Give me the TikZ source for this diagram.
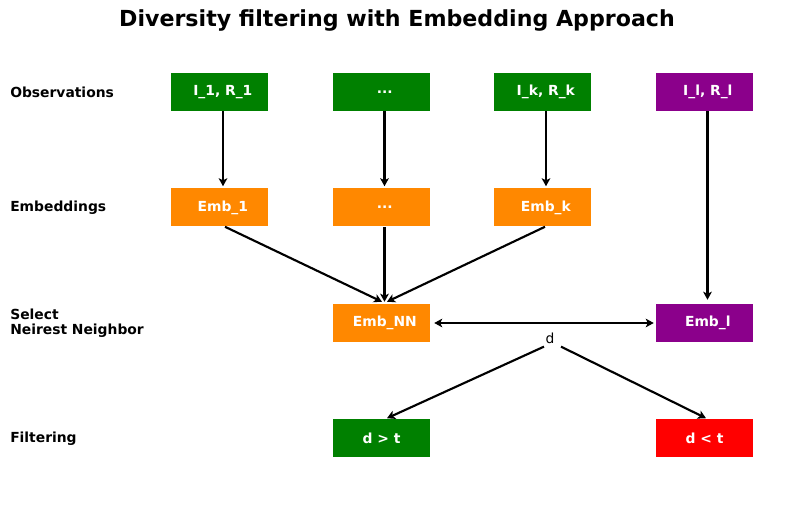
\documentclass[tikz,border=0pt]{standalone}
\usepackage{fontspec}
\setmainfont{DejaVu Sans}
\usetikzlibrary{arrows.meta,calc}
\definecolor{cgreen}{HTML}{008000}
\definecolor{corange}{HTML}{FF8800}
\definecolor{cpurple}{HTML}{8B008B}
\definecolor{cred}{HTML}{FF0000}
\tikzset{
  box/.style={rectangle, fill=#1, minimum width=72.75pt, minimum height=28.5pt, inner sep=0pt, text=white, font=\bfseries\fontsize{10.4}{12}\selectfont},
  rowlab/.style={anchor=west, inner sep=0pt, align=left, font=\bfseries\fontsize{10.4}{11.6}\selectfont},
  arr/.style={-{Stealth[length=6pt,width=6.5pt,inset=1.5pt]}, line width=1.6pt},
  darr/.style={{Stealth[length=6pt,width=6.5pt,inset=1.5pt]}-{Stealth[length=6pt,width=6.5pt,inset=1.5pt]}, line width=1.6pt},
}
\newcommand{\sh}{\hspace*{5pt}}
\begin{document}
\begin{tikzpicture}[x=0.75pt,y=-0.75pt]
\useasboundingbox (0,0) rectangle (794,506);
\node[font=\bfseries\fontsize{16.6}{20}\selectfont] (title) at (397,20) {Diversity filtering with Embedding Approach};

\node[rowlab] (l1) at (10,92) {Observations};
\node[rowlab] (l2) at (10,207.5) {Embeddings};
\node[rowlab] (l3) at (10,323) {Select\\Neirest Neighbor};
\node[rowlab] (l4) at (10,438.5) {Filtering};

\node[box=cgreen] (o1) at (219.5,92) {\sh I\_1, R\_1};
\node[box=cgreen] (o2) at (381.5,92) {\sh ...};
\node[box=cgreen] (o3) at (542.5,92) {\sh I\_k, R\_k};
\node[box=cpurple] (o4) at (704.5,92) {\sh I\_l, R\_l};

\node[box=corange] (e1) at (219.5,207.5) {\sh Emb\_1};
\node[box=corange] (e2) at (381.5,207.5) {\sh ...};
\node[box=corange] (e3) at (542.5,207.5) {\sh Emb\_k};

\node[box=corange] (nn) at (381.5,323) {\sh Emb\_NN};
\node[box=cpurple] (el) at (704.5,323) {\sh Emb\_l};

\node[box=cgreen] (f1) at (381.5,438.5) {d > t};
\node[box=cred] (f2) at (704.5,438.5) {d < t};

\node[inner sep=0pt, font=\fontsize{10.4}{12}\selectfont] (d) at (550,338) {d};

\draw[arr] ($(o1.south)+(3.5,0)$) -- ($(e1.north)+(3.5,-2)$);
\draw[arr] ($(o2.south)+(3,0)$) -- ($(e2.north)+(3,-2)$);
\draw[arr] ($(o3.south)+(3.5,0)$) -- ($(e3.north)+(3.5,-2)$);
\draw[arr] ($(o4.south)+(3,0)$) -- ($(el.north)+(3,-4)$);

\draw[arr] ($(e1.south)+(5.5,0)$) -- ($(nn.north)+(0.5,-2)$);
\draw[arr] ($(e2.south)+(3,0)$) -- ($(nn.north)+(3,-2)$);
\draw[arr] ($(e3.south)+(2.5,0)$) -- ($(nn.north)+(5.5,-2)$);

\draw[darr] ($(nn.east)+(4,0)$) -- ($(el.west)+(-2,0)$);

\draw[arr] ($(d.south)+(-6,3)$) -- ($(f1.north)+(5.5,-1)$);
\draw[arr] ($(d.south)+(11,3)$) -- ($(f2.north)+(1.5,-1)$);
\end{tikzpicture}
\end{document}
